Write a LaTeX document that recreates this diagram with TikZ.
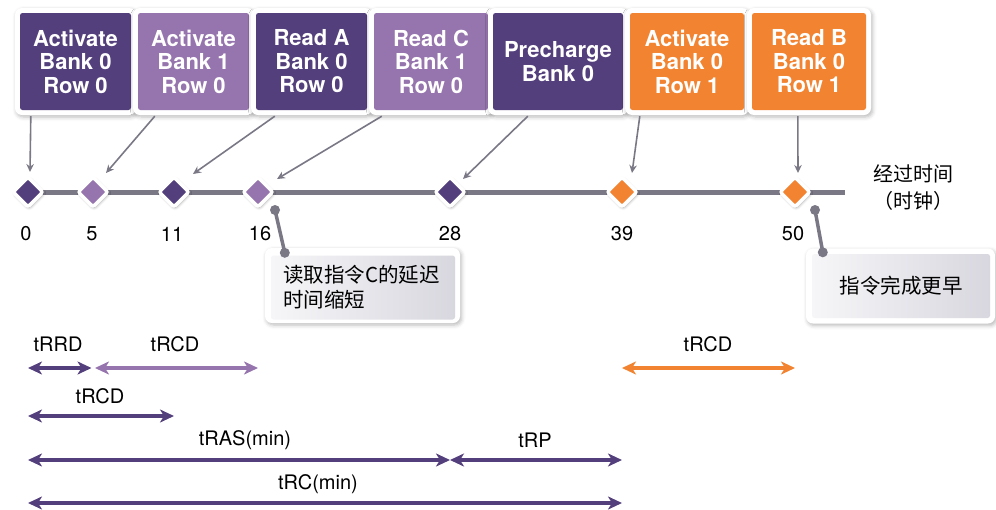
\documentclass[tikz,border=0pt]{standalone}
\usepackage{fontspec}
\setmainfont{TeX Gyre Heros}
\newfontfamily\cjk{Noto Sans CJK SC}
\usetikzlibrary{shadows.blur,arrows.meta,calc}

\definecolor{dpurple}{HTML}{533F7C}
\definecolor{lpurple}{HTML}{9674AD}
\definecolor{orng}{HTML}{F28431}
\definecolor{tgray}{HTML}{7B7886}
\definecolor{calloutL}{HTML}{F6F6F8}
\definecolor{calloutR}{HTML}{D8D7DF}

\tikzset{
  softshadow/.style={blur shadow={shadow xshift=1.5pt, shadow yshift=-2pt,
      shadow blur radius=4pt, shadow opacity=28}},
  cmdframe/.style={rectangle, rounded corners=7pt, fill=white, draw=none,
      minimum height=107pt, inner sep=0pt, softshadow},
  cmdbox/.style={rectangle, rounded corners=2.5pt, minimum height=97pt,
      inner sep=0pt, text=white, align=center,
      font=\fontsize{22}{23.5}\selectfont\bfseries},
  tickmark/.style={rectangle, rotate=45, minimum width=21pt, minimum height=21pt,
      inner sep=0pt, draw=white, line width=3.5pt, rounded corners=2.5pt,
      blur shadow={shadow xshift=1pt, shadow yshift=-1.5pt,
      shadow blur radius=3pt, shadow opacity=40}},
  numlbl/.style={font=\fontsize{20}{22}\selectfont, inner sep=0pt},
  ptr/.style={draw=tgray, line width=1.6pt, -{Stealth[length=8pt,width=7.5pt]}},
  pinline/.style={draw=tgray, line width=3.5pt},
  pindot/.style={fill=tgray},
  callframe/.style={rectangle, rounded corners=7pt, fill=white, draw=none,
      inner sep=0pt, softshadow},
  callbox/.style={rectangle, rounded corners=2.5pt, inner sep=0pt,
      left color=calloutL, right color=calloutR,
      font=\cjk\fontsize{20.5}{25}\selectfont},
  dimarr/.style={line width=4.5pt,
      {Stealth[length=14pt,width=13pt,inset=4pt]}-{Stealth[length=14pt,width=13pt,inset=4pt]}},
  dimlbl/.style={font=\fontsize{20}{22}\selectfont, inner sep=0pt},
}

% command box: name, centre x, inner width, colour, text
\newcommand\mkcmd[5]{%
  \node[cmdframe, minimum width=#3pt+10pt] (#1f) at (#2,61.5) {};
  \node[cmdbox, minimum width=#3pt, fill=#4] (#1) at (#2,61.5) {#5};}

\begin{document}
\begin{tikzpicture}[x=1pt,y=-1pt]
\clip (0,0) rectangle (996,509);

% command boxes
\mkcmd{b1}{75.5}{111}{dpurple}{Activate\\Bank 0\\Row 0}
\mkcmd{b2}{193.5}{111}{lpurple}{Activate\\Bank 1\\Row 0}
\mkcmd{b3}{311.5}{111}{dpurple}{Read A\\Bank 0\\Row 0}
\mkcmd{b4}{431}{114}{lpurple}{Read C\\Bank 1\\Row 0}
\mkcmd{b5}{558}{130}{dpurple}{Precharge\\Bank 0}
\mkcmd{b6}{687}{114}{orng}{Activate\\Bank 0\\Row 1}
\mkcmd{b7}{809}{114}{orng}{Read B\\Bank 0\\Row 1}

% time axis
\coordinate (tlstart) at (26,192);
\coordinate (tlend) at (845,192);
\draw[tgray, line width=5pt] (tlstart) -- (tlend);

\node[tickmark, fill=dpurple] (d0)  at (28,192) {};
\node[tickmark, fill=lpurple] (d5)  at (93,192) {};
\node[tickmark, fill=dpurple] (d11) at (174,192) {};
\node[tickmark, fill=lpurple] (d16) at (258,192) {};
\node[tickmark, fill=dpurple] (d28) at (450,192) {};
\node[tickmark, fill=orng]    (d39) at (622,192) {};
\node[tickmark, fill=orng]    (d50) at (795,192) {};

\node[numlbl] (n0)  at ($(d0)+(-2,42)$) {0};
\node[numlbl] (n5)  at ($(d5)+(-1,42)$) {5};
\node[numlbl] (n11) at ($(d11)+(-2,42)$) {11};
\node[numlbl] (n16) at ($(d16)+(2,42)$) {16};
\node[numlbl] (n28) at ($(d28)+(0,42)$) {28};
\node[numlbl] (n39) at ($(d39)+(0,42)$) {39};
\node[numlbl] (n50) at ($(d50)+(-2,42)$) {50};

\node[align=center, font=\cjk\fontsize{20}{27}\selectfont, inner sep=0pt]
  (axis) at (913,188) {经过时间\\（时钟）};

% pointers from commands to the axis
\draw[ptr] ($(b1.south west)+(11,6)$) -- ($(d0)+(2,-20)$);
\draw[ptr] ($(b2.south west)+(17,6)$) -- ($(d5)+(13,-19)$);
\draw[ptr] ($(b3.south west)+(19,6)$) -- ($(d11)+(19,-18)$);
\draw[ptr] ($(b4.south west)+(8,6)$)  -- ($(d16)+(19,-13)$);
\draw[ptr] ($(b5.south west)+(35,6)$) -- ($(d28)+(13,-13)$);
\draw[ptr] ($(b6.south west)+(10,6)$) -- ($(d39)+(10,-19)$);
\draw[ptr] ($(b7.south west)+(46,6)$) -- ($(d50)+(3,-19)$);

% callouts
\node[callframe, minimum width=195pt, minimum height=75pt] (c1f) at (362.5,285.5) {};
\node[callbox, minimum width=184pt, minimum height=64pt, text width=160pt,
      align=left] (c1) at (363,287.5) {读取指令C的延迟\\时间缩短};
\node[callframe, minimum width=189pt, minimum height=75pt] (c2f) at (900.5,286) {};
\node[callbox, minimum width=178pt, minimum height=64pt] (c2) at (901,286) {指令完成更早};

\coordinate (p1a) at ($(d16)+(17,18)$);
\coordinate (p1b) at ($(c1f.north west)+(20,5)$);
\draw[pinline] (p1a) -- (p1b);
\fill[pindot] (p1a) circle[radius=5pt] (p1b) circle[radius=5pt];
\coordinate (p2a) at ($(d50)+(20,18)$);
\coordinate (p2b) at ($(c2f.north west)+(17,4)$);
\draw[pinline] (p2a) -- (p2b);
\fill[pindot] (p2a) circle[radius=5pt] (p2b) circle[radius=5pt];

% timing intervals
\coordinate (r1) at (0,368);
\coordinate (r2) at (0,416);
\coordinate (r3) at (0,460);
\coordinate (r4) at (0,503);

\draw[dimarr, dpurple, shorten >=1.5pt] (d0 |- r1) -- (d5 |- r1);
\draw[dimarr, lpurple, shorten <=2pt] (d5 |- r1) -- (d16 |- r1);
\draw[dimarr, dpurple] (d0 |- r2) -- (d11 |- r2);
\draw[dimarr, dpurple] (d0 |- r3) -- (d28 |- r3);
\draw[dimarr, dpurple] (d28 |- r3) -- (d39 |- r3);
\draw[dimarr, dpurple] (d0 |- r4) -- (d39 |- r4);
\draw[dimarr, orng] (d39 |- r1) -- (d50 |- r1);

\node[dimlbl] (l1) at (58,344) {tRRD};
\node[dimlbl] (l2) at (175,344) {tRCD};
\node[dimlbl] (l3) at (100,396) {tRCD};
\node[dimlbl] (l4) at (245,440) {tRAS(min)};
\node[dimlbl] (l5) at (535,440) {tRP};
\node[dimlbl] (l6) at (318,484) {tRC(min)};
\node[dimlbl] (l7) at (708,344) {tRCD};
\end{tikzpicture}
\end{document}
